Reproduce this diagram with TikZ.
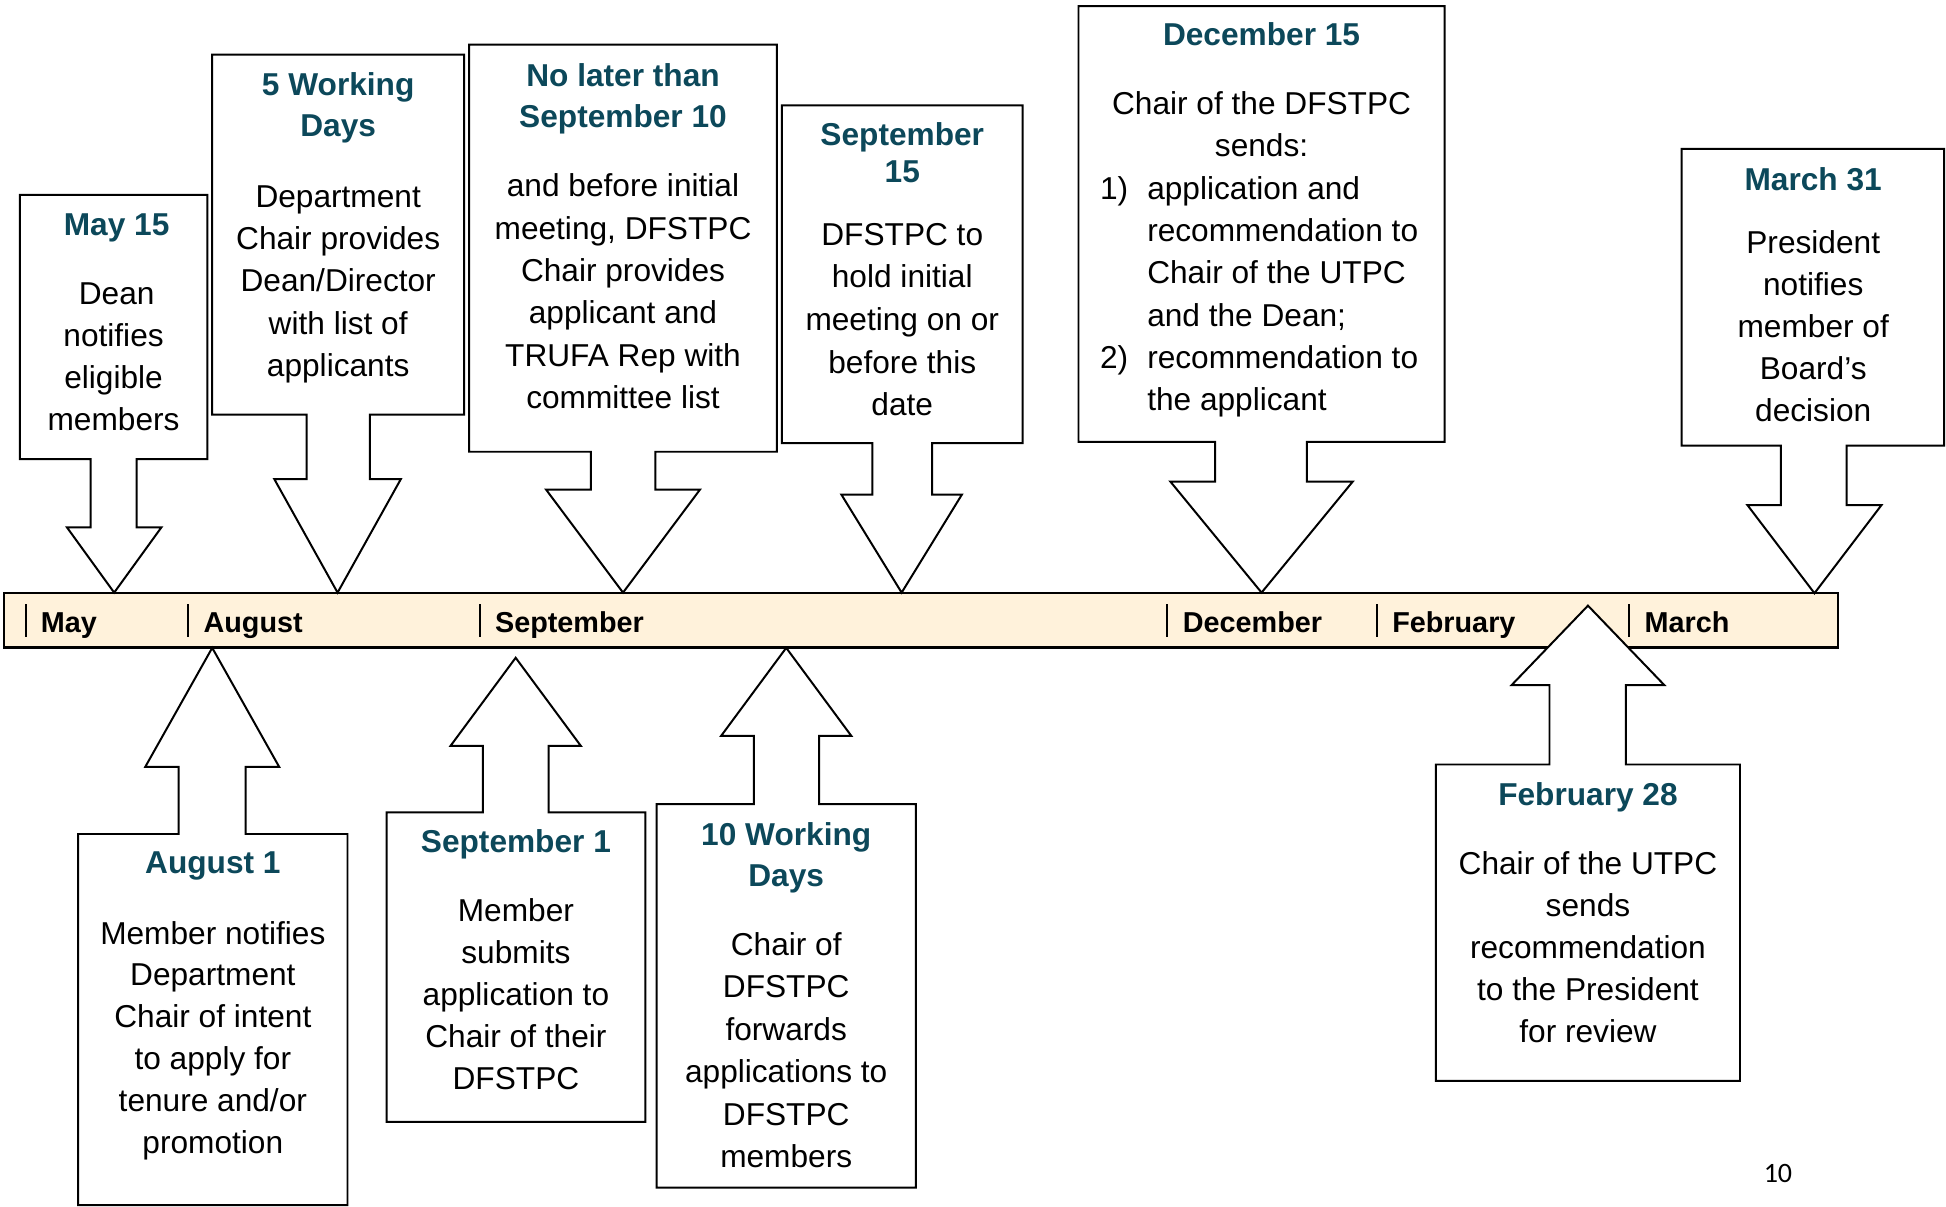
\documentclass[tikz,border=0pt]{standalone}
\usepackage{fontspec}
\setmainfont{Liberation Sans}
\newfontfamily\pagefont{Carlito}
\definecolor{titleteal}{RGB}{12,72,90}
\definecolor{barfill}{RGB}{255,242,219}
\tikzset{
  callout/.style={draw=black, fill=white, line width=0.8pt, line join=miter},
  ttl/.style={font=\fontsize{12.75}{17}\selectfont\bfseries, text=titleteal, inner sep=0pt, anchor=base},
  bdy/.style={font=\fontsize{12.75}{17}\selectfont, inner sep=0pt, anchor=base},
  bdyl/.style={font=\fontsize{12.75}{17}\selectfont, inner sep=0pt, anchor=base west},
  mon/.style={font=\fontsize{11.6}{14}\selectfont\bfseries, inner sep=0pt, anchor=base west},
  sep/.style={line width=0.8pt},
  bar/.style={draw=black, fill=barfill, line width=0.9pt},
}
% name, style, x, first baseline, step, list of lines
\newcommand\txtlines[6]{\foreach \t [count=\i from 0] in {#6} {\node[#2] (#1-\i) at (#3,{#4+#5*\i}) {\t};}}
\begin{document}
\begin{tikzpicture}[x=0.5pt,y=-0.5pt]
\useasboundingbox (0,0) rectangle (1568,972.5);

% timeline bar
\draw[bar] (3.3,478) rectangle (1481,521.7);
\foreach \x/\m [count=\k] in {20.6/May,151.6/August,386.5/September,940.7/December,1109.4/February,1312.7/March}{
  \coordinate (sepA-\k) at (\x,487);
  \coordinate (sepB-\k) at (\x,513.5);
  \draw[sep] (sepA-\k) -- (sepB-\k);
  \node[mon] (month-\k) at (\x+12,510) {\m};
}

% ---- callouts above the timeline (pointing down) ----
\draw[callout] (16,157) -- (167,157) -- (167,370) -- (110,370) -- (110,425) -- (130,425) -- (92,477.5) -- (54,425) -- (73,425) -- (73,370) -- (16,370) -- cycle;
\draw[callout] (171,44) -- (374,44) -- (374,334) -- (298,334) -- (298,386) -- (323,386) -- (272,477.5) -- (221,386) -- (247,386) -- (247,334) -- (171,334) -- cycle;
\draw[callout] (378,36) -- (626,36) -- (626,364) -- (528,364) -- (528,394.5) -- (564,394.5) -- (502,477.5) -- (440,394.5) -- (476,394.5) -- (476,364) -- (378,364) -- cycle;
\draw[callout] (630,85) -- (824,85) -- (824,357) -- (751,357) -- (751,398.6) -- (775,398.6) -- (726.5,477.5) -- (678,398.6) -- (703,398.6) -- (703,357) -- (630,357) -- cycle;
\draw[callout] (869,5) -- (1164,5) -- (1164,356) -- (1053,356) -- (1053,388) -- (1090,388) -- (1016.5,477.5) -- (943,388) -- (979,388) -- (979,356) -- (869,356) -- cycle;
\draw[callout] (1355,120) -- (1566.5,120) -- (1566.5,359) -- (1488,359) -- (1488,407) -- (1516,407) -- (1462,478) -- (1408,407) -- (1435,407) -- (1435,359) -- (1355,359) -- cycle;

% ---- callouts below the timeline (pointing up) ----
\draw[callout] (63,971) -- (63,672) -- (144,672) -- (144,618) -- (117,618) -- (171,522) -- (225,618) -- (198,618) -- (198,672) -- (280,672) -- (280,971) -- cycle;
\draw[callout] (311.5,904) -- (311.5,654.6) -- (389,654.6) -- (389,601) -- (363,601) -- (415.5,530) -- (468,601) -- (442,601) -- (442,654.6) -- (520,654.6) -- (520,904) -- cycle;
\draw[callout] (529,957) -- (529,648) -- (607.5,648) -- (607.5,593) -- (581,593) -- (633.5,522) -- (686,593) -- (660,593) -- (660,648) -- (738,648) -- (738,957) -- cycle;
\draw[callout] (1157,871) -- (1157,616) -- (1248.5,616) -- (1248.5,552) -- (1218,552) -- (1279.5,488) -- (1341,552) -- (1310,552) -- (1310,616) -- (1402,616) -- (1402,871) -- cycle;

% ---- texts ----
\node[ttl] (may-t) at (94,190) {May 15};
\node[bdy] (may-d) at (94,245) {Dean};
\txtlines{may}{bdy}{91.5}{278.9}{33.9}{notifies,eligible,members}

\txtlines{wd5t}{ttl}{272.5}{77.3}{32.9}{5 Working,Days}
\txtlines{wd5}{bdy}{272.5}{166.9}{34.1}{Department,Chair provides,Dean/Director,with list of,applicants}

\txtlines{nlt}{ttl}{502}{69.5}{32.9}{No later than,September 10}
\txtlines{nlb}{bdy}{502}{158.7}{34.1}{and before initial,{meeting, DFSTPC},Chair provides,applicant and,TRUFA Rep with,committee list}

\txtlines{s15t}{ttl}{727}{117}{29.9}{September,15}
\txtlines{s15}{bdy}{727}{197.8}{34.25}{DFSTPC to,hold initial,meeting on or,before this,date}

\node[ttl] (d15-t) at (1016.5,36.6) {December 15};
\txtlines{d15}{bdy}{1016.5}{92.3}{34.2}{Chair of the DFSTPC,sends:}
\node[bdyl] (d15-n1) at (886,160.4) {1)};
\txtlines{d15a}{bdyl}{924}{160.4}{34.1}{application and,recommendation to,Chair of the UTPC,and the Dean;}
\node[bdyl] (d15-n2) at (886,296.8) {2)};
\txtlines{d15b}{bdyl}{924}{296.8}{34.1}{recommendation to,the applicant}

\node[ttl] (m31-t) at (1461,153.3) {March 31};
\txtlines{m31}{bdy}{1461}{204.2}{33.9}{President,notifies,member of,Board’s,decision}

\node[ttl] (a1-t) at (171.5,703.6) {August 1};
\txtlines{a1}{bdy}{171.5}{760.7}{33.7}{Member notifies,Department,Chair of intent,to apply for,tenure and/or,promotion}

\node[ttl] (s1-t) at (415.7,687.1) {September 1};
\txtlines{s1}{bdy}{415.7}{742.6}{33.9}{Member,submits,application to,Chair of their,DFSTPC}

\txtlines{wd10t}{ttl}{633.5}{681.1}{32.8}{10 Working,Days}
\txtlines{wd10}{bdy}{633.5}{769.7}{34.2}{Chair of,DFSTPC,forwards,applications to,DFSTPC,members}

\node[ttl] (f28-t) at (1279.5,649) {February 28};
\txtlines{f28}{bdy}{1279.5}{704.5}{33.95}{Chair of the UTPC,sends,recommendation,to the President,for review}

\node[inner sep=0pt, anchor=base, font=\pagefont\fontsize{11.3}{13}\selectfont] (pagenum) at (1432.6,953) {10};
\end{tikzpicture}
\end{document}
